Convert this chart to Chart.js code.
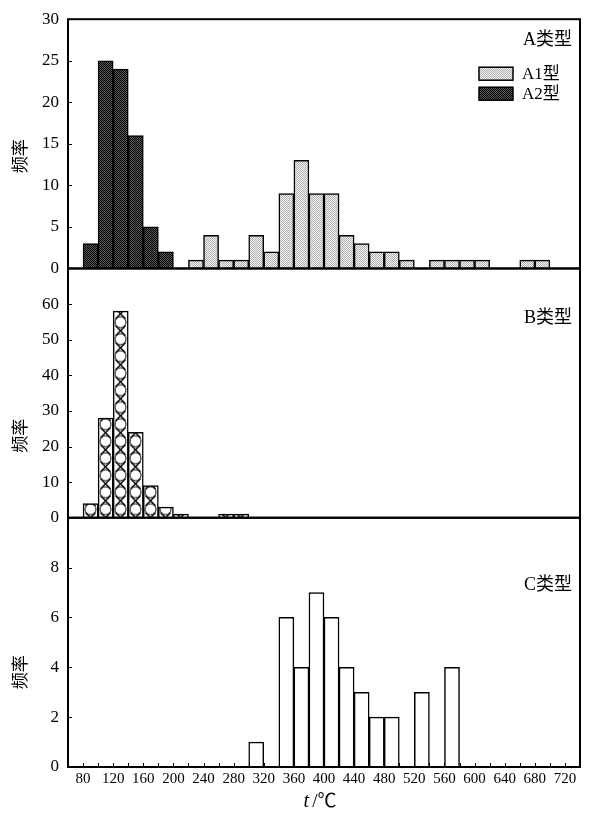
<!DOCTYPE html>
<html>
<head>
<meta charset="utf-8">
<script src="https://cdn.jsdelivr.net/npm/chart.js@4/dist/chart.umd.min.js"></script>
<style>
  html, body { margin: 0; padding: 0; background: #fff; }
  #wrap { width: 591px; height: 816px; }
</style>
</head>
<body>
<div id="wrap"><canvas id="hist" width="591" height="816"></canvas></div>
<script>
// histogram bins are 20 °C wide, each listed by its lower edge
const binWidth = 20;

const a1Bins = [220, 240, 260, 280, 300, 320, 340, 360, 380, 400, 420, 440, 460, 480, 500, 540, 560, 580, 600, 660, 680];
const a1Freq = [1, 4, 1, 1, 4, 2, 9, 13, 9, 9, 4, 3, 2, 2, 1, 1, 1, 1, 1, 1, 1];
const a2Bins = [80, 100, 120, 140, 160, 180];
const a2Freq = [3, 25, 24, 16, 5, 2];
const bBins = [80, 100, 120, 140, 160, 180, 200, 260, 280];
const bFreq = [4, 28, 58, 24, 9, 3, 1, 1, 1];
const cBins = [300, 340, 360, 380, 400, 420, 440, 460, 480, 520, 560];
const cFreq = [1, 6, 4, 7, 6, 4, 3, 2, 2, 3, 4];

const xLabels = [80, 120, 160, 200, 240, 280, 320, 360, 400, 440, 480, 520, 560, 600, 640, 680, 720];
const panelNames = ['A类型', 'B类型', 'C类型'];
const yTitle = '频率';

const serif = '"Liberation Serif", "Noto Sans CJK SC", serif';
const cjk = '"Liberation Serif", "Noto Sans CJK SC", sans-serif';

function toPoints(bins, freq) {
    return bins.map((b, i) => ({ x: b + binWidth / 2, y: freq[i] }));
}

// fine dither fills like the printed figure
function dotPattern(fg, bg) {
    const c = document.createElement('canvas');
    c.width = 2; c.height = 2;
    const g = c.getContext('2d');
    g.fillStyle = bg; g.fillRect(0, 0, 2, 2);
    g.fillStyle = fg; g.fillRect(0, 0, 1, 1); g.fillRect(1, 1, 1, 1);
    return g.createPattern(c, 'repeat');
}

// rings with little crosses between them (B type)
function ringPattern() {
    const c = document.createElement('canvas');
    c.width = 15; c.height = 17;
    const g = c.getContext('2d');
    g.fillStyle = '#fff'; g.fillRect(0, 0, 15, 17);
    g.strokeStyle = '#000'; g.lineWidth = 1;
    g.beginPath(); g.arc(7.5, 8.5, 5.5, 0, Math.PI * 2); g.stroke();
    g.lineWidth = 1.4;
    [0, 17].forEach(y => {
        g.beginPath();
        g.moveTo(2.5, y - 5); g.lineTo(12.5, y + 5);
        g.moveTo(12.5, y - 5); g.lineTo(2.5, y + 5);
        g.stroke();
    });
    return g.createPattern(c, 'repeat');
}

const a1Fill = dotPattern('#b0b0b0', '#f4f4f4');
const a2Fill = dotPattern('#000000', '#5c5c5c');
const bFill = ringPattern();

const framePlugin = {
    id: 'frames',
    beforeDatasetsDraw(chart) {
        const x = chart.scales.x, yB = chart.scales.yB;
        bFill.setTransform(new DOMMatrix().translate(Math.round(x.getPixelForValue(80)), yB.bottom));
    },
    afterDatasetsDraw(chart) {
        const ctx = chart.ctx;
        const x = chart.scales.x;
        const panels = [chart.scales.yA, chart.scales.yB, chart.scales.yC];
        ctx.save();
        ctx.strokeStyle = '#000';

        // inward tick marks
        ctx.lineWidth = 1;
        panels.forEach(s => {
            s.ticks.forEach(t => {
                const py = Math.round(s.getPixelForValue(t.value)) + 0.5;
                ctx.beginPath(); ctx.moveTo(x.left, py); ctx.lineTo(x.left + 4, py); ctx.stroke();
            });
        });
        x.ticks.forEach(t => {
            const px = Math.round(x.getPixelForValue(t.value)) + 0.5;
            ctx.beginPath(); ctx.moveTo(px, x.top); ctx.lineTo(px, x.top - 4); ctx.stroke();
        });

        // panel boxes
        ctx.lineWidth = 2;
        panels.forEach(s => {
            ctx.strokeRect(x.left, s.top, x.right - x.left, s.bottom - s.top);
        });

        // panel names and y titles
        ctx.fillStyle = '#000';
        ctx.font = '18px ' + cjk;
        ctx.textBaseline = 'middle';
        ctx.textAlign = 'right';
        const namePos = [27.5, 56, 7.3];
        panels.forEach((s, i) => {
            ctx.fillText(panelNames[i], x.right - 8, s.getPixelForValue(namePos[i]));
        });
        ctx.font = '17px ' + cjk;
        const titlePos = [13.5, 23, 3.8];
        panels.forEach((s, i) => {
            ctx.save();
            ctx.translate(22, s.getPixelForValue(titlePos[i]));
            ctx.rotate(-Math.PI / 2);
            ctx.textAlign = 'center';
            ctx.fillText(yTitle, 0, 0);
            ctx.restore();
        });

        // legend of panel A
        const yA = chart.scales.yA;
        ctx.font = '17px ' + cjk;
        [0, 1].forEach(i => {
            const ds = chart.data.datasets[i];
            const top = yA.top + 48 + i * 20;
            ctx.fillStyle = ds.backgroundColor;
            ctx.fillRect(479, top, 34, 13);
            ctx.lineWidth = 1.5;
            ctx.strokeRect(479, top, 34, 13);
            ctx.fillStyle = '#000';
            ctx.textAlign = 'left';
            ctx.fillText(ds.label, 522, top + 7);
        });

        // x title: italic t / ℃
        const cx = (x.left + x.right) / 2 - 4, cy = 802;
        ctx.font = 'italic 20px ' + serif;
        const wT = ctx.measureText('t').width;
        ctx.font = '19px ' + cjk;
        const rest = '/℃';
        const wR = ctx.measureText(rest).width;
        const x0 = cx - (wT + 3 + wR) / 2;
        ctx.textAlign = 'left';
        ctx.font = 'italic 20px ' + serif;
        ctx.fillText('t', x0, cy);
        ctx.font = '19px ' + cjk;
        ctx.fillText(rest, x0 + wT + 3, cy);
        ctx.restore();
    }
};

function yScale(max, step, hideTop) {
    return {
        type: 'linear',
        position: 'left',
        stack: 'panels',
        stackWeight: 1,
        min: 0,
        max: max,
        grid: { display: false, drawTicks: false },
        border: { display: false },
        ticks: {
            stepSize: step,
            autoSkip: false,
            padding: 9,
            color: '#000',
            font: { family: serif, size: 17 },
            callback: v => (hideTop && v === max) ? '' : v
        },
        afterFit: s => { s.width = 68; }
    };
}

new Chart(document.getElementById('hist'), {
    type: 'bar',
    data: {
        datasets: [
            { label: 'A1型', data: toPoints(a1Bins, a1Freq), yAxisID: 'yA', backgroundColor: a1Fill },
            { label: 'A2型', data: toPoints(a2Bins, a2Freq), yAxisID: 'yA', backgroundColor: a2Fill },
            { label: 'B类型', data: toPoints(bBins, bFreq), yAxisID: 'yB', backgroundColor: bFill },
            { label: 'C类型', data: toPoints(cBins, cFreq), yAxisID: 'yC', backgroundColor: '#ffffff' }
        ]
    },
    options: {
        responsive: false,
        animation: false,
        layout: { padding: { top: 12, right: 11, left: 0, bottom: 0 } },
        datasets: {
            bar: {
                grouped: false,
                barPercentage: 1,
                categoryPercentage: 1,
                borderColor: '#000',
                borderWidth: 1.5
            }
        },
        plugins: { legend: { display: false }, tooltip: { enabled: false } },
        scales: {
            x: {
                type: 'linear',
                position: 'bottom',
                offset: false,
                min: 60,
                max: 740,
                grid: { display: false, drawTicks: false, offset: false },
                border: { display: false },
                ticks: {
                    stepSize: 20,
                    autoSkip: false,
                    maxRotation: 0,
                    padding: 3,
                    color: '#000',
                    font: { family: serif, size: 15 },
                    callback: v => xLabels.includes(v) ? String(v) : ''
                },
                afterFit: s => { s.height = 49; }
            },
            yC: yScale(10, 2, true),
            yB: yScale(70, 10, true),
            yA: yScale(30, 5, false)
        }
    },
    plugins: [framePlugin]
});
</script>
</body>
</html>
